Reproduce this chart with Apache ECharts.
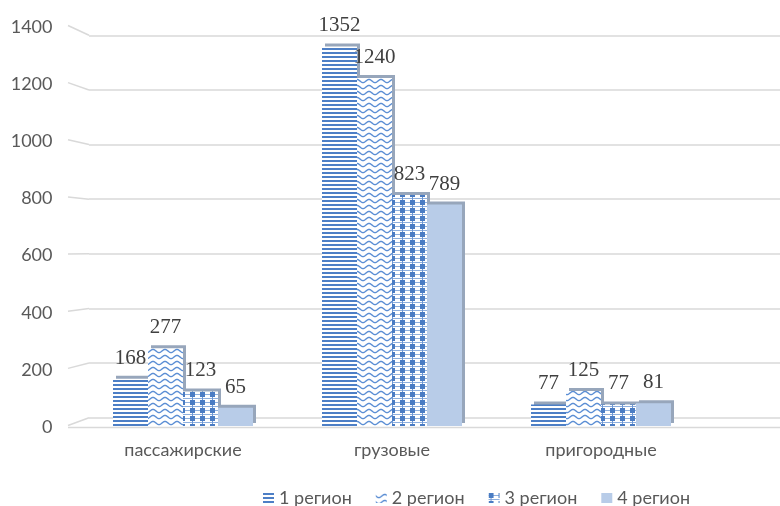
<!DOCTYPE html>
<html><head><meta charset="utf-8">
<script src="https://cdn.jsdelivr.net/npm/echarts@6/dist/echarts.min.js"></script>
<style>html,body{margin:0;padding:0;background:#fff}#c{width:780px;height:506px}</style>
</head><body><div id="c"></div>
<script>
const categories = ['пассажирские', 'грузовые', 'пригородные'];
const seriesNames = ['1 регион', '2 регион', '3 регион', '4 регион'];
const region1 = [168, 1352, 77];
const region2 = [277, 1240, 125];
const region3 = [123, 823, 77];
const region4 = [65, 789, 81];
const yTicks = [0, 200, 400, 600, 800, 1000, 1200, 1400];

function mk(w, h, draw) {
  const c = document.createElement('canvas');
  c.width = w; c.height = h;
  const g = c.getContext('2d');
  g.fillStyle = '#ffffff'; g.fillRect(0, 0, w, h);
  draw(g, w, h);
  return { image: c, repeat: 'repeat' };
}
const pat1 = mk(8, 4, (g) => { g.fillStyle = '#4d7fc6'; g.fillRect(0, 0, 8, 2); });
const pat2 = mk(12, 6, (g) => {
  g.strokeStyle = '#5b8ed4'; g.lineWidth = 1.4; g.beginPath();
  for (let x = -1; x <= 13; x += 0.5) {
    const y = 3 + 1.6 * Math.sin(2 * Math.PI * x / 12);
    if (x === -1) g.moveTo(x, y); else g.lineTo(x, y);
  }
  g.stroke();
});
const pat3 = mk(10, 8, (g) => {
  g.fillStyle = '#4a7cc3'; g.fillRect(0, 0, 5, 5);
  g.fillStyle = '#8fb0de'; g.fillRect(5, 2, 5, 1); g.fillRect(0, 6, 10, 1);
  g.fillStyle = '#6f97d3'; g.fillRect(2, 5, 1, 3);
});
const pat4 = '#b8cce8';
const patterns = [pat1, pat2, pat3, pat4];
const datas = [region1, region2, region3, region4];

const chart = echarts.init(document.getElementById('c'), null, { renderer: 'canvas' });
const sans = 'Lato, "Open Sans", "Noto Sans", sans-serif';
const option = {
  animation: false,
  backgroundColor: '#ffffff',
  grid: [
    { left: 78.5, right: 74.5, top: 33, bottom: 80 },
    { left: 89, right: 0, top: 35.3, bottom: 88.3 },
    { left: 78.5, right: 74.5, top: 27, bottom: 79 }
  ],
  xAxis: [
    { type: 'category', gridIndex: 0, data: categories,
      axisLine: { show: false }, axisTick: { show: false },
      axisLabel: { fontFamily: sans, fontSize: 18, color: '#595959', margin: 15 } },
    { type: 'value', gridIndex: 1, min: 0, max: 1, show: false },
    { type: 'value', gridIndex: 2, min: 0, max: 1, show: false }
  ],
  yAxis: [
    { type: 'value', gridIndex: 0, min: 0, max: 1400, interval: 200, show: false },
    { type: 'value', gridIndex: 1, min: 0, max: 1400, interval: 200,
      axisLine: { show: false }, axisTick: { show: false }, axisLabel: { show: false },
      splitLine: { show: true, lineStyle: { color: '#d9d9d9', width: 1.5 } } },
    { type: 'value', gridIndex: 2, min: 0, max: 1400, interval: 200,
      axisLine: { show: false }, axisTick: { show: false }, splitLine: { show: false },
      axisLabel: { fontFamily: sans, fontSize: 18, color: '#595959', margin: 26,
        formatter: (v) => String(v) } }
  ],
  legend: {
    left: 258, top: 484, itemWidth: 11, itemHeight: 10, itemGap: 24,
    icon: 'rect',
    itemStyle: { shadowBlur: 0, shadowOffsetX: 0, shadowOffsetY: 0, shadowColor: 'transparent' },
    textStyle: { fontFamily: sans, fontSize: 18, color: '#595959' },
    data: seriesNames
  },
  series: seriesNames.map((name, i) => ({
    name, type: 'bar', xAxisIndex: 0, yAxisIndex: 0,
    data: datas[i], barWidth: 35, barGap: '0%',
    itemStyle: { color: patterns[i], shadowColor: '#97a6bb', shadowOffsetX: 3, shadowOffsetY: -3, shadowBlur: 0 },
    label: { show: true, position: 'top', distance: 10,
      fontFamily: '"Liberation Serif", "DejaVu Serif", serif', fontSize: 21, color: '#404040' }
  }))
};
chart.setOption(option);

const leftX = 68;
const wallX = 89;
const g = [];
yTicks.forEach((v) => {
  const yA = chart.convertToPixel({ yAxisIndex: 2 }, v);
  const yB = chart.convertToPixel({ yAxisIndex: 1 }, v);
  g.push({ type: 'line', silent: true, z: -1,
    shape: { x1: leftX, y1: yA - 1.5, x2: wallX, y2: yB },
    style: { stroke: '#d9d9d9', lineWidth: 1.5 } });
});
const y0 = chart.convertToPixel({ yAxisIndex: 2 }, 0);
g.push({ type: 'line', silent: true, z: -1,
  shape: { x1: leftX, y1: y0 + 0.5, x2: 780, y2: y0 + 0.5 },
  style: { stroke: '#d9d9d9', lineWidth: 1.5 } });
chart.setOption({ graphic: g });
</script>
</body></html>
